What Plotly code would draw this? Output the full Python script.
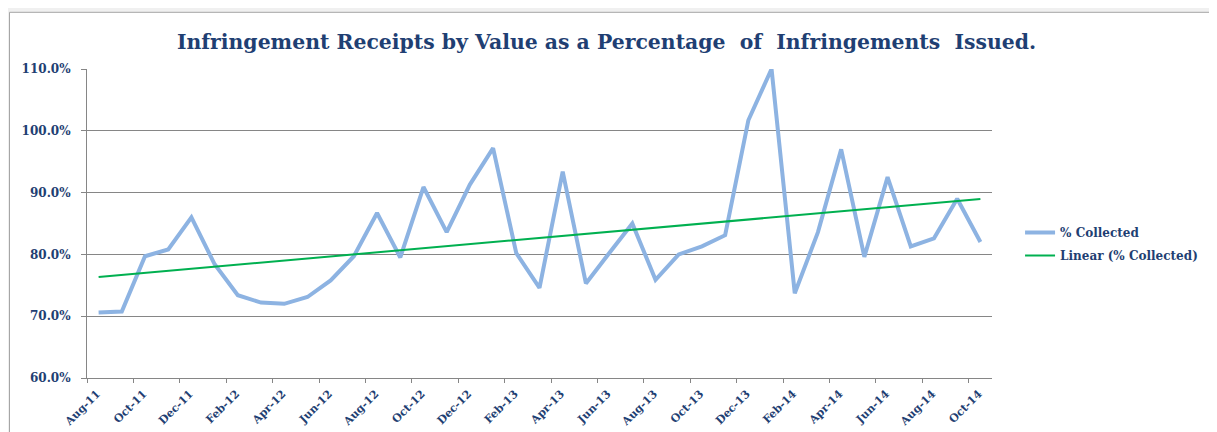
import numpy as np
import plotly.graph_objects as go

months = ["Aug-11","Sep-11","Oct-11","Nov-11","Dec-11","Jan-12","Feb-12","Mar-12","Apr-12","May-12",
          "Jun-12","Jul-12","Aug-12","Sep-12","Oct-12","Nov-12","Dec-12","Jan-13","Feb-13","Mar-13",
          "Apr-13","May-13","Jun-13","Jul-13","Aug-13","Sep-13","Oct-13","Nov-13","Dec-13","Jan-14",
          "Feb-14","Mar-14","Apr-14","May-14","Jun-14","Jul-14","Aug-14","Sep-14","Oct-14"]
pct_collected = [70.6, 70.75, 79.7, 80.8, 86.0, 78.4, 73.4, 72.2, 72.0, 73.1,
                 75.8, 79.7, 86.7, 79.5, 90.9, 83.6, 91.3, 97.2, 80.2, 74.6,
                 93.4, 75.3, 80.2, 85.0, 75.9, 80.0, 81.3, 83.1, 101.7, 110.0,
                 73.7, 83.6, 97.0, 79.6, 92.5, 81.3, 82.6, 89.0, 82.0]
tick_labels = months[::2]

x = np.arange(len(months))
y = np.array(pct_collected) / 100.0
slope, intercept = np.polyfit(x, y, 1)
trend = slope * x + intercept

navy = "#1F3F73"
font_family = "DejaVu Serif"

# plot area in figure pixel coordinates
L, T, PW, PH = 79, 61, 905, 309
W, H = 1217, 432

fig = go.Figure()
fig.add_trace(go.Scatter(x=x, y=y, mode="lines", name="% Collected", legendgroup="a",
                         line=dict(color="#8DB3E2", width=4)))
fig.add_trace(go.Scatter(x=x, y=trend, mode="lines", name="Linear (% Collected)", legendgroup="b",
                         line=dict(color="#00B050", width=2)))

fig.update_layout(
    width=W, height=H,
    margin=dict(l=L, r=W - L - PW, t=T, b=H - T - PH, autoexpand=False),
    paper_bgcolor="#F0F0F0", plot_bgcolor="white",
    title=dict(text="Infringement Receipts by Value as a Percentage  of  Infringements  Issued.",
               x=598.5 / W, xanchor="center", y=1 - 34 / H, yanchor="middle",
               font=dict(family=font_family, size=20.4, color=navy, weight="bold")),
    legend=dict(x=1.031, y=(PH - (244 - 8 - T)) / PH, xanchor="left", yanchor="middle",
                font=dict(family=font_family, size=12, color=navy, weight="bold"),
                bgcolor="rgba(0,0,0,0)", tracegroupgap=4),
    showlegend=True,
)
fig.update_xaxes(range=[-0.5, len(months) - 0.5], automargin=False,
                 tickmode="array", tickvals=[v - 0.5 for v in x[::2]], ticktext=tick_labels,
                 tickangle=-45, ticks="outside", ticklen=4, tickcolor="#868686",
                 ticklabelshift=10, ticklabelstandoff=0,
                 showline=True, linecolor="#868686", linewidth=1, showgrid=False, zeroline=False,
                 tickfont=dict(family=font_family, size=11, color=navy, weight="bold"))
fig.update_yaxes(range=[0.6, 1.1], dtick=0.1, tickformat=".1%", automargin=False,
                 ticks="outside", ticklen=5, tickcolor="#868686", ticklabelstandoff=8,
                 showline=True, linecolor="#868686", linewidth=1,
                 showgrid=True, gridcolor="#868686", gridwidth=1, zeroline=False,
                 tickfont=dict(family=font_family, size=12, color=navy, weight="bold"))
fig.add_shape(type="rect", xref="paper", yref="paper",
              x0=(1.5 - L) / PW, x1=(W + 5 - L) / PW, y0=-(H + 5 - T - PH) / PH, y1=1 + (T - 4.3) / PH,
              line=dict(color="#A6A6A6", width=1), fillcolor="white", layer="below")
fig.write_html("out.html")
